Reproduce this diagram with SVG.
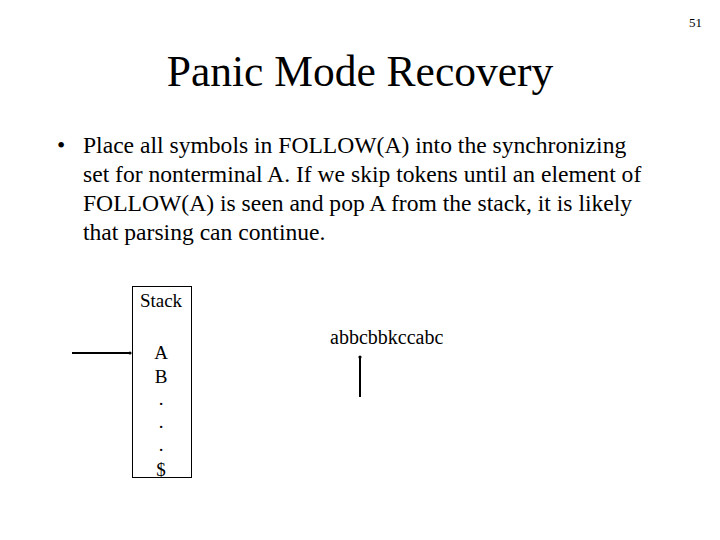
<svg xmlns="http://www.w3.org/2000/svg" width="720" height="540" viewBox="0 0 720 540">
<style>
text{font-family:"Liberation Serif",serif;fill:#000}
.b{font-size:23.6px}
.s{font-size:19px;text-anchor:middle}
line{stroke:#000;stroke-width:2}
</style>
<defs><marker id="d" markerWidth="4" markerHeight="4" refX="2" refY="2" markerUnits="userSpaceOnUse"><circle cx="2" cy="2" r="1.6"/></marker></defs>
<rect width="720" height="540" fill="#fff"/>
<text x="702" y="27" font-size="13" text-anchor="end">51</text>
<text x="360" y="86" font-size="43.5" text-anchor="middle">Panic Mode Recovery</text>
<text x="57" y="153" class="b">•</text>
<text x="83" y="153" class="b">Place all symbols in FOLLOW(A) into the synchronizing</text>
<text x="83" y="182" class="b">set for nonterminal A. If we skip tokens until an element of</text>
<text x="83" y="211" class="b">FOLLOW(A) is seen and pop A from the stack, it is likely</text>
<text x="83" y="240" class="b">that parsing can continue.</text>
<g id="stack">
<rect x="132.5" y="286.5" width="59" height="191" fill="none" stroke="#000" stroke-width="1"/>
<text x="161" y="307" class="s">Stack</text>
<text x="161" y="359" class="s">A</text>
<text x="161" y="383" class="s">B</text>
<text x="161" y="405" class="s">.</text>
<text x="161" y="428" class="s">.</text>
<text x="161" y="451" class="s">.</text>
<text x="161" y="476" class="s">$</text>
</g>
<g id="input"><text x="330" y="344" font-size="20">abbcbbkccabc</text></g>
<g id="connectors">
<line x1="72" y1="353" x2="130" y2="353" marker-end="url(#d)"/>
<line x1="360" y1="397" x2="360" y2="357" marker-end="url(#d)"/>
</g>
</svg>
